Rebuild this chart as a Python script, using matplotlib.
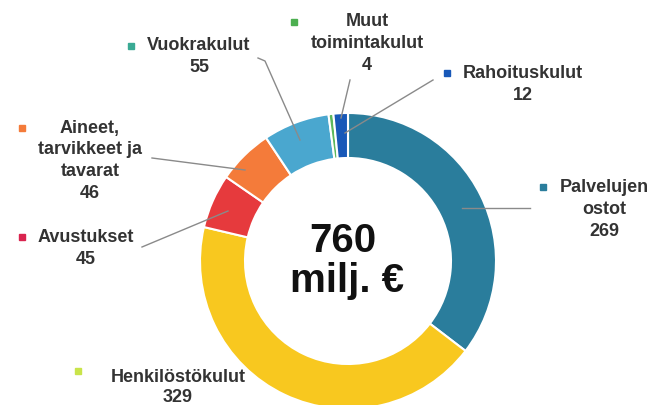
import matplotlib
matplotlib.use("Agg")
import matplotlib.pyplot as plt

# Data
categories = ["Palvelujen\nostot", "Henkilöstökulut", "Avustukset",
              "Aineet,\ntarvikkeet ja\ntavarat", "Vuokrakulut",
              "Muut\ntoimintakulut", "Rahoituskulut"]
values = [269, 329, 45, 46, 55, 4, 12]
total_label = "760\nmilj. €"

colors = ["#2a7d9c", "#f8c81f", "#e63a3d", "#f47b3a", "#4aa7cf", "#5cb85c", "#1858b8"]
marker_colors = ["#2a7d9c", "#c9e44a", "#d9244f", "#f47b3a", "#3aaa94", "#4caf50", "#1858b8"]

W, H = 651, 405
fig = plt.figure(figsize=(W / 100, H / 100), dpi=100)
ax = fig.add_axes([0, 0, 1, 1])

def P(x, y):
    return x, H - y

cx, cy = P(348, 261)
R = 148
ax.pie(values, colors=colors, startangle=90, counterclock=False,
       center=(cx, cy), radius=R,
       wedgeprops=dict(width=45, edgecolor="white", linewidth=1.5))

ax.set_xlim(0, W)
ax.set_ylim(0, H)
ax.set_aspect("equal")
ax.axis("off")

txt_color = "#333333"
font = dict(family=["Liberation Sans", "DejaVu Sans"], fontweight="bold")

# center text
ax.text(*P(343, 241), total_label.split("\n")[0], ha="center", va="center",
        fontsize=29, color="#111111", **font)
ax.text(*P(347, 281), total_label.split("\n")[1], ha="center", va="center",
        fontsize=29, color="#111111", **font)

# label layout: (text center x, first line y, marker x, line spacing)
layout = [
    (604, 187, 543, 22),
    (178, 377, 78, 20),
    (86, 237, 22, 22),
    (90, 128, 22, 22),
    (199, 46, 131, 22),
    (367, 22, 294, 22),
    (523, 73, 447, 22),
]
for cat, val, (tx, ty, mx, lh), mc in zip(categories, values, layout, marker_colors):
    lines = cat.split("\n") + [str(val)]
    for i, ln in enumerate(lines):
        ax.text(*P(tx, ty + i * lh), ln, ha="center", va="center",
                fontsize=13, color=txt_color, **font)
    ax.plot(*P(mx, ty - 6 if mx == 78 else ty), marker="s", markersize=4,
            color=mc, linestyle="none")

# leader lines
leaders = [
    [(462, 208), (530, 208)],
    [(228, 211), (142, 247)],
    [(245, 170), (152, 158)],
    [(300, 140), (265, 61), (258, 58)],
    [(341, 118), (350, 80)],
    [(345, 133), (433, 80)],
]
for pts in leaders:
    xs = [P(*p)[0] for p in pts]
    ys = [P(*p)[1] for p in pts]
    ax.plot(xs, ys, color="#8a8a8a", linewidth=1)

fig.savefig("out.png", dpi=100)
